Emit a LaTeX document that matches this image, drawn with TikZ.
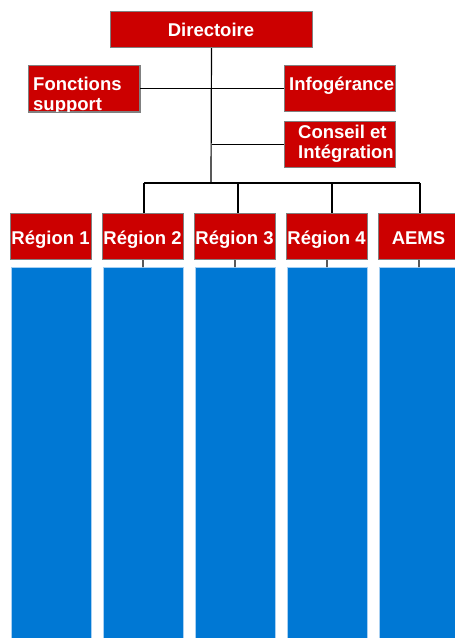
\documentclass[tikz,border=0pt]{standalone}
\usepackage{fontspec}
\setmainfont{Liberation Sans}
\definecolor{boxred}{HTML}{CC0000}
\definecolor{boxgray}{HTML}{808080}
\definecolor{boxblue}{HTML}{0078D4}
\definecolor{blueedge}{HTML}{A8D0F2}
\begin{document}
\begin{tikzpicture}[x=1pt,y=-1pt,
  redbox/.style={fill=boxred,draw=boxgray,line width=1pt,inner sep=0pt,anchor=north west},
  bluebox/.style={fill=boxblue,draw=blueedge,line width=0.8pt,inner sep=0pt,anchor=north west,minimum width=80pt,minimum height=380pt},
  lbl/.style={text=white,font=\fontsize{18.5}{20}\selectfont\bfseries,inner sep=0pt},
  conn/.style={draw=black,line width=1.2pt}]
\useasboundingbox (0,0) rectangle (455,638);
% top boxes
\node[redbox,minimum width=202pt,minimum height=36pt] (dir) at (110,11) {};
\node[lbl,anchor=base] (dirt) at (211,36.5) {Directoire};
\node[redbox,minimum width=111pt,minimum height=46pt] (fs) at (28,65) {};
\node[lbl,anchor=base west] (fst1) at (33,90) {Fonctions};
\begin{scope}
\clip (fs.north west) rectangle (fs.south east);
\node[lbl,anchor=base west] (fst2) at (33,110) {support};
\end{scope}
\draw[boxgray,line width=1pt] (fs.north west) rectangle (fs.south east);
\node[redbox,minimum width=111pt,minimum height=46pt] (info) at (284,65) {};
\node[lbl,anchor=base west] (infot) at (289,90) {Infogérance};
\node[redbox,minimum width=111pt,minimum height=46pt] (ci) at (284,121) {};
\node[lbl,anchor=base west] (cit1) at (298,138) {Conseil et};
\node[lbl,anchor=base west] (cit2) at (298,158) {Intégration};
% connectors top
\coordinate (busc) at (211,183);
\draw[conn] (dir.south) -- (busc);
\draw[conn] (fs.east) -- (info.west);
\draw[conn] (dir.south |- ci.west) -- (ci.west);
% region boxes
\foreach \i/\t in {1/Région 1,2/Région 2,3/Région 3,4/Région 4,5/AEMS}{
  \node[redbox,minimum width=81pt,minimum height=46pt] (r\i) at ({10+92*(\i-1)},213) {};
  \node[lbl,anchor=base] (rt\i) at ({50.5+92*(\i-1)},244) {\t};
  \node[bluebox] (bl\i) at ({10.5+92*(\i-1)},267) {};
}
% bus
\coordinate (b2) at (144,183);
\coordinate (b3) at (238,183);
\coordinate (b4) at (332,183);
\coordinate (b5) at (420,183);
\draw[conn] (b2) -- (b5);
\foreach \i in {2,3,4,5}{
  \draw[conn] (b\i) -- (b\i |- r\i.north);
  \draw[conn] (r\i.south) -- (bl\i.north);
}
\end{tikzpicture}
\end{document}
